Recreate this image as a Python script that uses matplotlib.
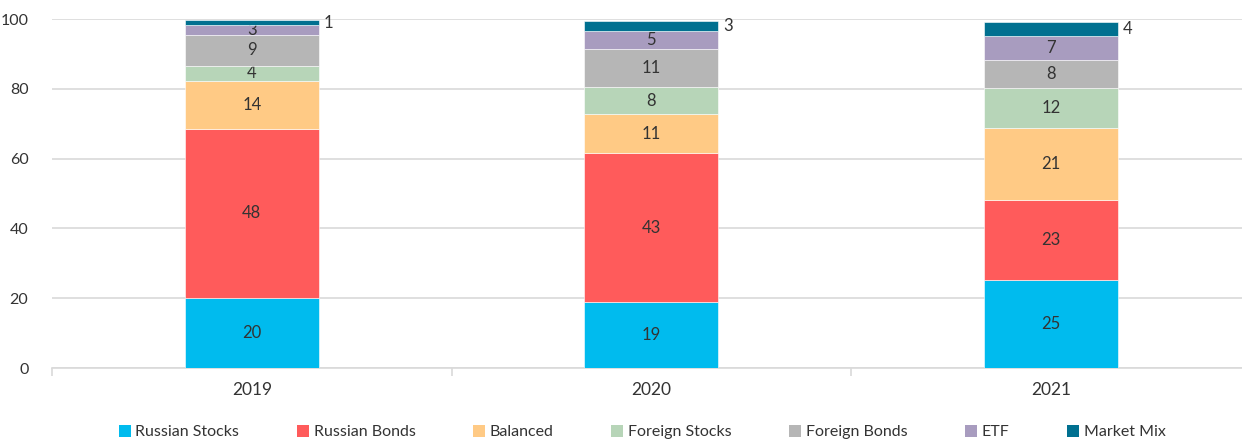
import numpy as np
import matplotlib.pyplot as plt
from matplotlib.patches import Patch

plt.rcParams['font.family'] = ['Lato', 'DejaVu Sans']

years = ['2019', '2020', '2021']
series = ['Russian Stocks', 'Russian Bonds', 'Balanced', 'Foreign Stocks',
          'Foreign Bonds', 'ETF', 'Market Mix']
russian_stocks = [20.1, 18.8, 25.2]
russian_bonds = [48.4, 42.8, 22.9]
balanced = [13.8, 11.1, 20.8]
foreign_stocks = [4.3, 7.8, 11.5]
foreign_bonds = [8.9, 10.9, 7.8]
etf = [2.9, 5.2, 7.1]
market_mix = [1.3, 2.8, 3.9]
colors = ['#00bbee', '#ff5b5b', '#ffca85', '#b7d5b8', '#b6b6b6', '#a89cbf', '#007090']

data = [russian_stocks, russian_bonds, balanced, foreign_stocks,
        foreign_bonds, etf, market_mix]
txt = '#333333'

fig = plt.figure(figsize=(12.42, 4.42), dpi=100)
ax = fig.add_axes([52/1242, 1-368/442, 1190/1242, (368-19.2)/442])

x = np.arange(len(years))
w = 0.335
bottom = np.zeros(len(years))
for name, vals, c in zip(series, data, colors):
    vals = np.array(vals)
    ax.bar(x, vals, w, bottom=bottom, color=c, edgecolor='white', linewidth=0.4, zorder=3)
    for i in range(len(years)):
        yc = bottom[i] + vals[i]/2
        if name == 'Market Mix':
            ax.text(x[i] + w/2 + 0.012, yc, f'{vals[i]:.0f}', ha='left', va='center',
                    fontsize=12, color=txt)
        else:
            ax.text(x[i], yc, f'{vals[i]:.0f}', ha='center', va='center',
                    fontsize=12, color=txt)
    bottom += vals

ax.set_ylim(0, 100)
ax.set_xlim(-0.5, 2.478)
ax.set_yticks(range(0, 101, 20))
ax.set_xticks(x)
ax.set_xticklabels(years)
ax.set_xticks([-0.5, 0.5, 1.5], minor=True)
ax.grid(axis='y', color='#d9d9d9', linewidth=1.2, zorder=0)
for s in ['top', 'right', 'left']:
    ax.spines[s].set_visible(False)
ax.spines['bottom'].set_color('#d9d9d9')
ax.spines['bottom'].set_linewidth(1.2)
ax.tick_params(axis='y', length=0, pad=17, labelsize=11.5, labelcolor=txt)
ax.tick_params(axis='x', which='major', length=0, pad=10, labelsize=12.5, labelcolor=txt)
ax.tick_params(axis='x', which='minor', length=6, color='#d9d9d9', width=1.2)

handles = [Patch(facecolor=c, label=n) for n, c in zip(series, colors)]
fig.legend(handles=handles, loc='center', bbox_to_anchor=(0.517, 0.022), ncol=7,
           frameon=False, fontsize=11.5, handlelength=0.75, handleheight=0.75,
           handletextpad=0.3, columnspacing=3.6, labelcolor=txt)

plt.savefig('out.png', dpi=100)
